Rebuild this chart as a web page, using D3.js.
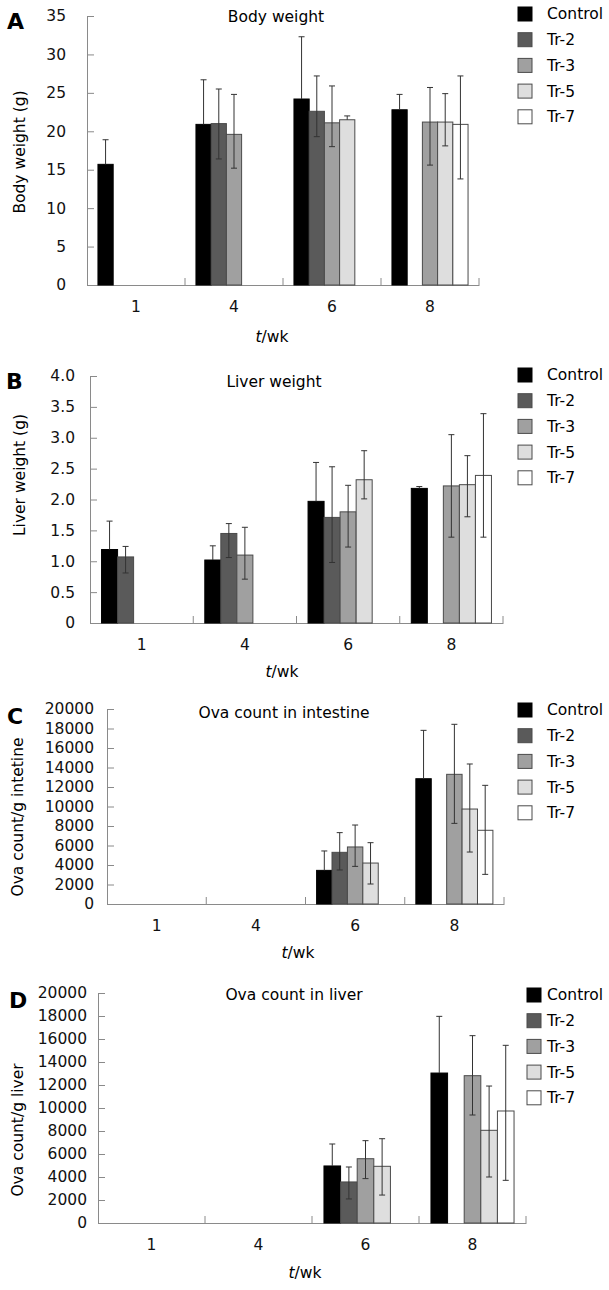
<!DOCTYPE html>
<html>
<head>
<meta charset="utf-8">
<script src="https://cdn.jsdelivr.net/npm/d3@7/dist/d3.min.js"></script>
<style>
  body { margin: 0; background: #fff; }
  svg { display: block; font-family: "DejaVu Sans", Verdana, sans-serif; }
  .axis path, .axis line { stroke: #8a8a8a; }
  .axis text { fill: #111; font-size: 15.5px; font-family: "DejaVu Sans", Verdana, sans-serif; }
</style>
</head>
<body>
<svg id="chart" width="609" height="1290"></svg>
<script>
// categories
var weeks = ['1', '4', '6', '8'];
var groups = ['Control', 'Tr-2', 'Tr-3', 'Tr-5', 'Tr-7'];
var fills = ['#000000', '#5a5a5a', '#a0a0a0', '#dedede', '#ffffff'];

// A: body weight (g) - one row per week, columns = groups, null = no bar
var bodyMean = [
	[15.7, null, null, null, null],
	[20.9, 21.0, 19.6, null, null],
	[24.2, 22.6, 21.1, 21.5, null],
	[22.8, null, 21.2, 21.2, 20.9]
];
var bodyUp = [
	[3.2, null, null, null, null],
	[5.8, 4.5, 5.2, null, null],
	[8.1, 4.6, 4.8, 0.5, null],
	[2.0, null, 4.5, 3.7, 6.3]
];
var bodyDown = [
	[null, null, null, null, null],
	[null, 4.6, 4.4, null, null],
	[null, 3.3, 3.1, null, null],
	[null, null, 5.6, 3.1, 7.1]
];

// B: liver weight (g)
var liverMean = [
	[1.19, 1.07, null, null, null],
	[1.02, 1.45, 1.10, null, null],
	[1.97, 1.71, 1.80, 2.32, null],
	[2.18, null, 2.22, 2.24, 2.39]
];
var liverUp = [
	[0.46, 0.17, null, null, null],
	[0.23, 0.16, 0.45, null, null],
	[0.63, 0.82, 0.43, 0.47, null],
	[0.03, null, 0.83, 0.47, 1.0]
];
var liverDown = [
	[null, 0.26, null, null, null],
	[null, 0.39, 0.39, null, null],
	[null, 0.73, 0.57, 0.31, null],
	[null, null, 0.83, 0.52, 1.0]
];

// C: ova count / g intestine
var intMean = [
	[null, null, null, null, null],
	[null, null, null, null, null],
	[3450, 5300, 5850, 4200, null],
	[12850, null, 13300, 9740, 7560]
];
var intUp = [
	[null, null, null, null, null],
	[null, null, null, null, null],
	[1990, 2020, 2250, 2090, null],
	[4960, null, 5130, 4620, 4610]
];
var intDown = [
	[null, null, null, null, null],
	[null, null, null, null, null],
	[null, 1810, 1990, 2150, null],
	[null, null, 5030, 4410, 4520]
];

// D: ova count / g liver
var ovaLivMean = [
	[null, null, null, null, null],
	[null, null, null, null, null],
	[4960, 3570, 5590, 4930, null],
	[13040, null, 12810, 8060, 9740]
];
var ovaLivUp = [
	[null, null, null, null, null],
	[null, null, null, null, null],
	[1910, 1300, 1570, 2400, null],
	[4930, null, 3480, 3850, 5710]
];
var ovaLivDown = [
	[null, null, null, null, null],
	[null, null, null, null, null],
	[null, 1480, 1730, 2500, null],
	[null, null, 3420, 4060, 6030]
];

var fmtInt = d3.format('d');
var fmtDec = function(d) { return d === 0 ? '0' : d3.format('.1f')(d); };

var panels = [
	{ letter: 'A', lx: 7, ly: 29, title: 'Body weight', tx: 276, ty: 17, ylab: 'Body weight (g)', yx: 20, yy: 152,
	  mean: bodyMean, up: bodyUp, down: bodyDown, max: 35, step: 5, fmt: fmtInt, pad: 21,
	  x0: 87, x1: 479, top: 16, bot: 285, xlx: 272, xly: 337, legX: 518, legY: 14 },
	{ letter: 'B', lx: 6, ly: 389, title: 'Liver weight', tx: 274, ty: 382, ylab: 'Liver weight (g)', yx: 20, yy: 475,
	  mean: liverMean, up: liverUp, down: liverDown, max: 4, step: 0.5, fmt: fmtDec, pad: 15,
	  x0: 90, x1: 503, top: 376, bot: 623, xlx: 282, xly: 672, legX: 518, legY: 375 },
	{ letter: 'C', lx: 7, ly: 724, title: 'Ova count in intestine', tx: 284, ty: 713, ylab: 'Ova count/g intetine', yx: 18, yy: 817,
	  mean: intMean, up: intUp, down: intDown, max: 20000, step: 2000, fmt: fmtInt, pad: 13,
	  x0: 107, x1: 504, top: 709, bot: 904, xlx: 298, xly: 953, legX: 518, legY: 710 },
	{ letter: 'D', lx: 9, ly: 1008, title: 'Ova count in liver', tx: 294, ty: 995, ylab: 'Ova count/g liver', yx: 18, yy: 1130,
	  mean: ovaLivMean, up: ovaLivUp, down: ovaLivDown, max: 20000, step: 2000, fmt: fmtInt, pad: 11,
	  x0: 98, x1: 526, top: 993, bot: 1223, xlx: 305, xly: 1273, legX: 527, legY: 995 }
];

var svg = d3.select('#chart');

function drawPanel(p) {
	var g = svg.append('g');

	var x = d3.scaleBand().domain(weeks).range([p.x0, p.x1]).padding(0);
	var xs = d3.scaleBand().domain(groups).range([0, x.bandwidth()]).paddingInner(0).paddingOuter(0.72);
	var y = d3.scaleLinear().domain([0, p.max]).range([p.bot, p.top]);

	// y axis, ticks pointing inward
	g.append('g')
		.attr('class', 'axis')
		.attr('transform', 'translate(' + p.x0 + ',0)')
		.call(d3.axisLeft(y)
			.tickValues(d3.range(0, p.max + p.step / 2, p.step))
			.tickFormat(p.fmt)
			.tickSizeInner(-7)
			.tickSizeOuter(0)
			.tickPadding(p.pad));

	// x axis: labels at band centres
	var xa = g.append('g')
		.attr('class', 'axis')
		.attr('transform', 'translate(0,' + p.bot + ')')
		.call(d3.axisBottom(x).tickSize(0).tickPadding(16));
	// category separators at band edges
	xa.selectAll('.sep')
		.data(weeks)
		.enter().append('line')
		.attr('class', 'sep')
		.attr('x1', d => x(d) + x.bandwidth())
		.attr('x2', d => x(d) + x.bandwidth())
		.attr('y1', 0)
		.attr('y2', -7);

	// bars
	var cells = [];
	weeks.forEach(function(w, i) {
		groups.forEach(function(s, j) {
			var v = p.mean[i][j];
			if (v === null) return;
			cells.push({ w: w, s: s, j: j, v: v, up: p.up[i][j], down: p.down[i][j] });
		});
	});

	g.selectAll('.bar')
		.data(cells)
		.enter().append('rect')
		.attr('class', 'bar')
		.attr('x', d => x(d.w) + xs(d.s))
		.attr('width', xs.bandwidth())
		.attr('y', d => y(d.v))
		.attr('height', d => y(0) - y(d.v))
		.attr('fill', d => fills[d.j])
		.attr('stroke', d => d.j === 0 ? '#000' : '#4a4a4a')
		.attr('stroke-width', 1);

	// error bars
	var eb = g.selectAll('.err')
		.data(cells)
		.enter().append('g')
		.attr('class', 'err')
		.attr('stroke', '#333')
		.attr('stroke-width', 1)
		.attr('transform', d => 'translate(' + (x(d.w) + xs(d.s) + xs.bandwidth() / 2) + ',0)');
	eb.append('line')
		.attr('y1', d => y(d.v + d.up))
		.attr('y2', d => d.down === null ? y(d.v) : y(d.v - d.down));
	eb.append('line')
		.attr('x1', -3).attr('x2', 3)
		.attr('y1', d => y(d.v + d.up)).attr('y2', d => y(d.v + d.up));
	eb.filter(d => d.down !== null).append('line')
		.attr('x1', -3).attr('x2', 3)
		.attr('y1', d => y(d.v - d.down)).attr('y2', d => y(d.v - d.down));

	// panel letter, title, axis labels
	g.append('text')
		.attr('x', p.lx).attr('y', p.ly)
		.attr('font-size', 22).attr('font-weight', 'bold')
		.text(p.letter);

	g.append('text')
		.attr('x', p.tx).attr('y', p.ty).attr('dy', '0.35em')
		.attr('text-anchor', 'middle')
		.attr('font-size', 15.5)
		.text(p.title);

	g.append('text')
		.attr('transform', 'translate(' + p.yx + ',' + p.yy + ') rotate(-90)')
		.attr('dy', '0.35em')
		.attr('text-anchor', 'middle')
		.attr('font-size', 15.5)
		.text(p.ylab);

	var xl = g.append('text')
		.attr('x', p.xlx).attr('y', p.xly).attr('dy', '0.35em')
		.attr('text-anchor', 'middle')
		.attr('font-size', 15.5);
	xl.append('tspan').attr('font-style', 'italic').text('t');
	xl.append('tspan').text('/wk');

	// legend
	var leg = g.selectAll('.leg')
		.data(groups)
		.enter().append('g')
		.attr('class', 'leg')
		.attr('transform', (d, i) => 'translate(' + p.legX + ',' + (p.legY + i * 25.7) + ')');
	leg.append('rect')
		.attr('x', 0).attr('y', -7)
		.attr('width', 14).attr('height', 14)
		.attr('fill', (d, i) => fills[i])
		.attr('stroke', (d, i) => i === 0 ? '#000' : '#4a4a4a');
	leg.append('text')
		.attr('x', 547 - p.legX).attr('dy', '0.35em')
		.attr('font-size', 15.5)
		.text(d => d);
}

panels.forEach(drawPanel);
</script>
</body>
</html>
